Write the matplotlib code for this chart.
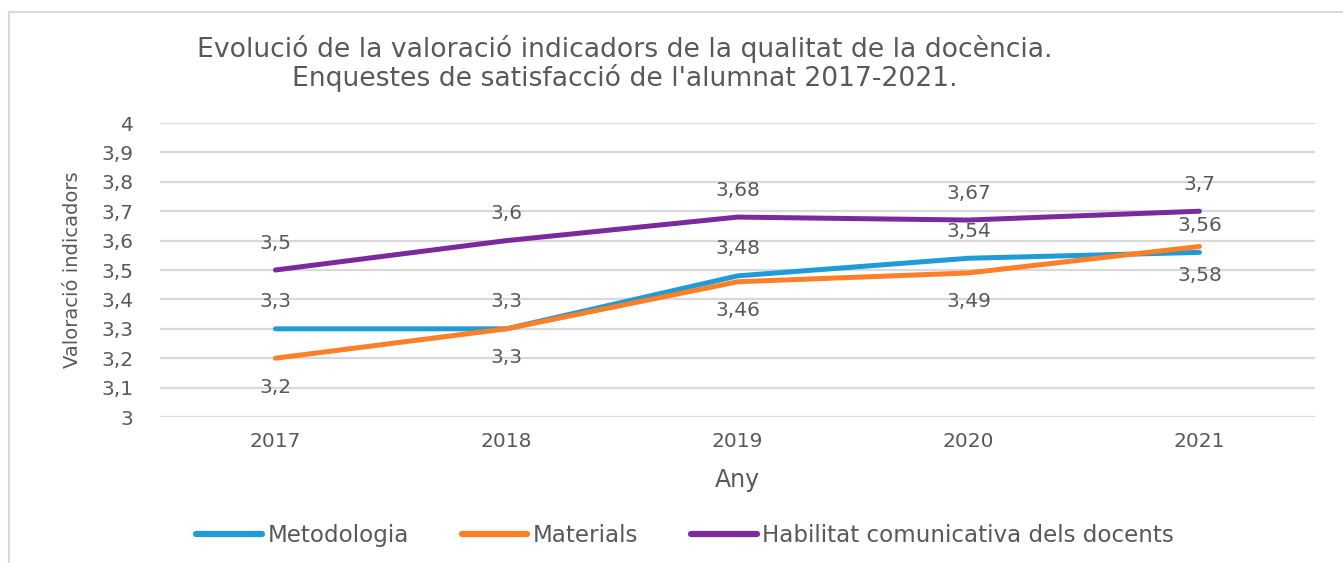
import matplotlib.pyplot as plt
from matplotlib.lines import Line2D

# Data
years = ["2017", "2018", "2019", "2020", "2021"]
metodologia = [3.3, 3.3, 3.48, 3.54, 3.56]
materials = [3.2, 3.3, 3.46, 3.49, 3.58]
habilitat = [3.5, 3.6, 3.68, 3.67, 3.7]
series_names = ["Metodologia", "Materials", "Habilitat comunicativa dels docents"]
y_ticks = [3.0, 3.1, 3.2, 3.3, 3.4, 3.5, 3.6, 3.7, 3.8, 3.9, 4.0]

TEXT = "#595959"
GRID = "#d9d9d9"
COLORS = ["#1f9bd7", "#ff7f27", "#7b2a9e"]

plt.rcParams['font.family'] = ['DejaVu Sans']


def fmt(v):
    s = ("%.2f" % v).rstrip('0').rstrip('.')
    return s.replace('.', ',')


fig = plt.figure(figsize=(13.43, 5.63), dpi=100)
ax = fig.add_axes([0.1191, 0.2593, 0.86, 0.5222])

x = list(range(len(years)))
all_series = [metodologia, materials, habilitat]
# label placement: above (-) or below (+) the point, in pixels
offsets = [-27, 29, -27]

for vals, name, color, off in zip(all_series, series_names, COLORS, offsets):
    ax.plot(x, vals, color=color, lw=3.6, solid_capstyle='round', label=name, zorder=3)
    for xi, v in zip(x, vals):
        ax.annotate(fmt(v), (xi, v), xytext=(0, -off), textcoords='offset pixels',
                    ha='center', va='center', fontsize=14.5, color=TEXT, zorder=4)

ax.set_xlim(-0.5, len(years) - 0.5)
ax.set_ylim(3.0, 4.0)
ax.set_yticks(y_ticks)
ax.set_yticklabels([fmt(t) for t in y_ticks])
ax.set_xticks(x)
ax.set_xticklabels(years)
ax.tick_params(length=0, labelsize=14.5, colors=TEXT)
ax.tick_params(axis='y', pad=19)
ax.tick_params(axis='x', pad=11)
ax.grid(axis='y', color=GRID, lw=1.6)
ax.set_axisbelow(True)
for s in ax.spines.values():
    s.set_visible(False)

ax.set_xlabel("Any", fontsize=17, color=TEXT, labelpad=12)
ax.set_ylabel("Valoració indicadors", fontsize=14, color=TEXT, labelpad=14)

fig.text(0.4655, 0.913, "Evolució de la valoració indicadors de la qualitat de la docència.",
         ha='center', va='center', fontsize=19.2, color=TEXT)
fig.text(0.4655, 0.861, "Enquestes de satisfacció de l'alumnat 2017-2021.",
         ha='center', va='center', fontsize=19.2, color=TEXT)

fig.legend(loc='center', bbox_to_anchor=(0.51, 0.048), ncol=3, frameon=False,
           fontsize=16.6, handlelength=2.85, handletextpad=0.22, columnspacing=2.3,
           labelcolor=TEXT)
for leg_line in fig.legends[0].get_lines():
    leg_line.set_linewidth(4.5)

# outer chart border (left and top edges visible)
fig.add_artist(Line2D([9 / 1343, 9 / 1343], [0, 1 - 12 / 563], color=GRID, lw=1.5))
fig.add_artist(Line2D([9 / 1343, 1], [1 - 12 / 563, 1 - 12 / 563], color=GRID, lw=1.5))

fig.savefig("out.png", dpi=100)
